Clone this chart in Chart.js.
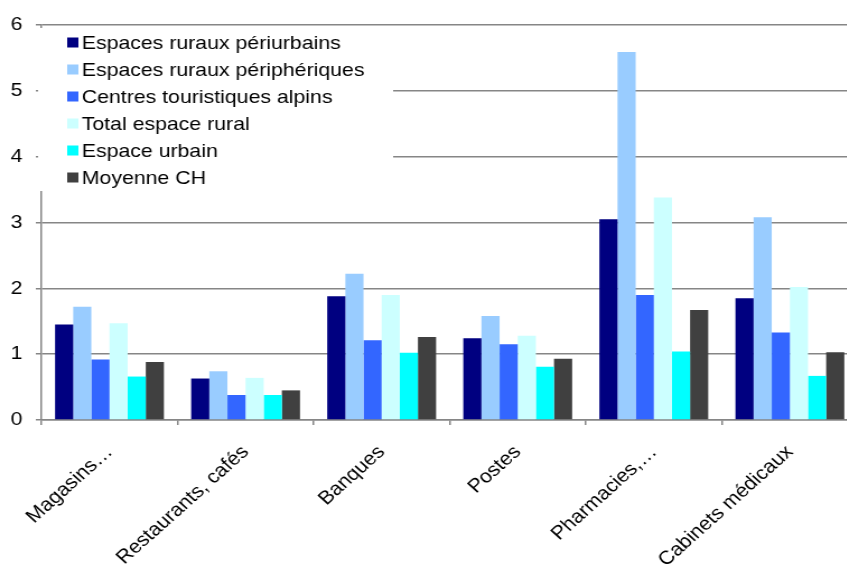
<!DOCTYPE html>
<html>
<head>
<meta charset="utf-8">
<script src="https://cdn.jsdelivr.net/npm/chart.js@4.4.0/dist/chart.umd.min.js"></script>
<style>
  html, body { margin: 0; padding: 0; background: #fff; overflow: hidden; }
  #wrap { width: 766px; height: 569px; transform: scaleX(1.12); transform-origin: 0 0; }
</style>
</head>
<body>
<div id="wrap"><canvas id="chart" width="766" height="569"></canvas></div>
<script>
const categories = ['Magasins…', 'Restaurants, cafés', 'Banques', 'Postes', 'Pharmacies,…', 'Cabinets médicaux'];
const seriesNames = [
    'Espaces ruraux périurbains',
    'Espaces ruraux périphériques',
    'Centres touristiques alpins',
    'Total espace rural',
    'Espace urbain',
    'Moyenne CH'
];
const seriesColors = ['#000080', '#99ccff', '#3366ff', '#ccffff', '#00ffff', '#404040'];

const periurbains   = [1.45, 0.63, 1.88, 1.24, 3.05, 1.85];
const peripheriques = [1.72, 0.74, 2.22, 1.58, 5.59, 3.08];
const alpins        = [0.92, 0.38, 1.21, 1.15, 1.90, 1.33];
const totalRural    = [1.47, 0.64, 1.90, 1.28, 3.38, 2.02];
const urbain        = [0.66, 0.38, 1.02, 0.81, 1.04, 0.67];
const moyenneCH     = [0.88, 0.45, 1.26, 0.93, 1.67, 1.03];

const yMin = 0;
const yMax = 6;
const yStep = 1;

const seriesValues = [periurbains, peripheriques, alpins, totalRural, urbain, moyenneCH];

Chart.defaults.font.family = '"Liberation Sans", Arial, sans-serif';

// legend box drawn over the plot, top left, with a white background
const boxLegend = {
    id: 'boxLegend',
    afterDraw(chart) {
        const ctx = chart.ctx;
        ctx.save();
        ctx.fillStyle = '#fff';
        ctx.fillRect(34, 28, 317, 163);
        ctx.font = '19px "Liberation Sans", Arial, sans-serif';
        ctx.textBaseline = 'middle';
        chart.data.datasets.forEach((ds, i) => {
            const y = 42.5 + i * 27;
            ctx.fillStyle = ds.backgroundColor;
            ctx.fillRect(60, y - 5, 10, 10);
            ctx.fillStyle = '#000';
            ctx.fillText(ds.label, 73, y + 1);
        });
        ctx.restore();
    }
};

const datasets = seriesNames.map((name, i) => ({
    label: name,
    data: seriesValues[i],
    backgroundColor: seriesColors[i],
    borderWidth: 0,
    categoryPercentage: 0.8,
    barPercentage: 1.0
}));

new Chart(document.getElementById('chart').getContext('2d'), {
    type: 'bar',
    data: { labels: categories, datasets: datasets },
    options: {
        responsive: false,
        animation: false,
        layout: { padding: { top: 25, left: 0, right: 0, bottom: 0 } },
        plugins: {
            legend: { display: false },
            tooltip: { enabled: false }
        },
        scales: {
            x: {
                grid: { offset: true, drawOnChartArea: false, drawTicks: true, tickLength: 5, color: '#868686', lineWidth: 1.5 },
                border: { color: '#868686', width: 1.5 },
                ticks: { autoSkip: false, minRotation: 45, maxRotation: 45, color: '#000', font: { size: 19 }, padding: 16 },
                afterFit(scale) { scale.height = 149; }
            },
            y: {
                min: yMin,
                max: yMax,
                grid: { color: '#868686', lineWidth: 1.5, tickLength: 5 },
                border: { color: '#868686', width: 1.5 },
                ticks: { stepSize: yStep, color: '#000', font: { size: 19 }, padding: 12 },
                afterFit(scale) { scale.width = 37; }
            }
        }
    },
    plugins: [boxLegend]
});
</script>
</body>
</html>
